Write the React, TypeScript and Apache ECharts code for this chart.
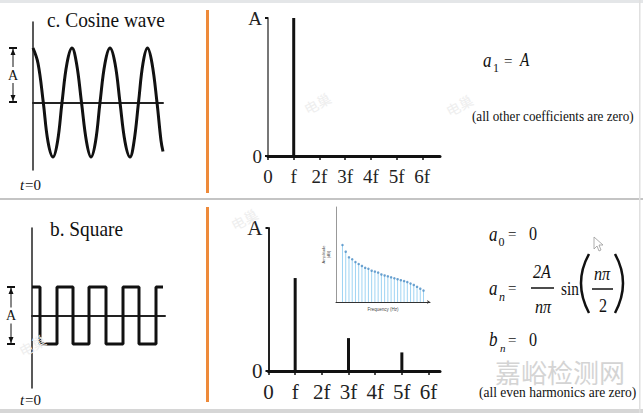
import React, { useEffect, useRef } from "react";
import * as echarts from "echarts";

const SERIF = "Liberation Serif";

// Cosine wave (time in px from t=0, amplitude in units of A)
const cosTime = [0, 5, 10.3, 15, 20, 24.5, 29, 34, 39, 43.5, 48.5, 53.5, 58, 62.5, 67, 72, 77, 82, 87, 92, 97, 101, 105.5, 110, 114.5, 119, 124, 128, 130];
const cosValue = [1, 0.72, 0, -0.72, -1, -0.72, 0, 0.72, 1, 0.72, 0, -0.72, -1, -0.72, 0, 0.72, 1, 0.72, 0, -0.72, -1, -0.72, 0, 0.72, 1, 0.72, 0, -0.7, -0.9];

// Square wave (transition times in px from t=0, level in units of A)
const squareTime = [0, 8, 25, 41, 57, 74, 91, 107, 124, 131];
const squareLevel = [1, -1, 1, -1, 1, -1, 1, -1, 1, 1];

// Spectra
const harmonicLabels = ["0", "f", "2f", "3f", "4f", "5f", "6f"];
const cosHarmonic = [1];
const cosAmplitude = [1];
const squareHarmonic = [1, 3, 5];
const squareAmplitude = [0.65, 0.23, 0.13];

// Inset spectrum (bin index, amplitude %)
const insetBin = [2, 3, 4, 5, 6, 7, 8, 9, 10, 11, 12, 13, 14, 15, 16, 17, 18, 19, 20, 21, 22, 23, 24, 25, 26, 27];
const insetAmplitude = [60, 53, 47, 45, 42, 40, 38, 36, 35, 33, 32, 31, 29, 28, 27, 26, 25, 24, 23, 22, 21, 19.5, 18, 16, 14, 12];

const txt = (x: number, y: number, text: string, size: number, extra: any = {}) => ({
  type: "text",
  x,
  y,
  scaleX: extra.scaleX ?? 1,
  rotation: extra.rotation ?? 0,
  z: 10,
  style: {
    text,
    fontSize: size,
    fontFamily: extra.family ?? SERIF,
    fontStyle: extra.italic ? "italic" : "normal",
    fill: extra.fill ?? "#111",
    textAlign: extra.align ?? "left",
    textVerticalAlign: "middle",
  },
});

const ln = (x1: number, y1: number, x2: number, y2: number, color = "#111", w = 1.5) => ({
  type: "line",
  z: 10,
  shape: { x1, y1, x2, y2 },
  style: { stroke: color, lineWidth: w },
});

const markerA = (x: number, yTop: number, yBot: number) => {
  const mid = (yTop + yBot) / 2;
  return [
    ln(x - 4, yTop, x + 4, yTop, "#111", 2),
    ln(x - 4, yBot, x + 4, yBot, "#111", 2),
    ln(x, yTop, x, mid - 8, "#111", 1),
    ln(x, mid + 8, x, yBot, "#111", 1),
    { type: "polygon", z: 10, shape: { points: [[x, yTop + 1], [x - 2.5, yTop + 7], [x + 2.5, yTop + 7]] }, style: { fill: "#111" } },
    { type: "polygon", z: 10, shape: { points: [[x, yBot - 1], [x - 2.5, yBot - 7], [x + 2.5, yBot - 7]] }, style: { fill: "#111" } },
    txt(x, mid, "A", 14, { align: "center" }),
  ];
};

const tEquals0 = (x: number, y: number) => [
  txt(x, y, "t", 15, { italic: true }),
  txt(x + 5, y, "=0", 15),
];

const specXAxis = (grid: number, max: number, size: number, margin: number) => ({
  type: "value",
  gridIndex: grid,
  min: 0,
  max,
  interval: 1,
  axisLine: { onZero: false, lineStyle: { color: "#111", width: 3 } },
  axisTick: { show: true, length: 4, lineStyle: { color: "#111", width: 1.5 } },
  axisLabel: {
    formatter: (v: number) => harmonicLabels[v] ?? "",
    fontFamily: SERIF,
    fontSize: size,
    color: "#222",
    margin,
    showMaxLabel: false,
  },
  splitLine: { show: false },
});

const specYAxis = (grid: number, color: string, size: number) => ({
  type: "value",
  gridIndex: grid,
  min: 0,
  max: 1,
  interval: 1,
  axisLine: { show: true, lineStyle: { color, width: 2 } },
  axisTick: { show: true, length: 3, lineStyle: { color: "#111", width: 2 } },
  axisLabel: {
    formatter: (v: number) => (v === 1 ? "A" : "0"),
    fontFamily: SERIF,
    fontSize: size,
    color: "#222",
    margin: 6,
  },
  splitLine: { show: false },
});

const waveXAxis = (grid: number, max: number) => ({
  type: "value",
  gridIndex: grid,
  min: 0,
  max,
  axisLine: { onZero: true, lineStyle: { color: "#222", width: 2 } },
  axisTick: { show: false },
  axisLabel: { show: false },
  splitLine: { show: false },
});

const waveYAxis = (grid: number, min: number, max: number) => ({
  type: "value",
  gridIndex: grid,
  min,
  max,
  axisLine: { show: true, lineStyle: { color: "#222", width: 1.5 } },
  axisTick: { show: false },
  axisLabel: { show: false },
  splitLine: { show: false },
});

export default function App() {
  const ref = useRef<HTMLDivElement>(null);

  useEffect(() => {
    if (!ref.current) return;
    const chart = echarts.init(ref.current, undefined, { renderer: "svg" });
    const CJK = "Noto Sans CJK SC";

    const graphic: any[] = [
      { type: "rect", z: 0, shape: { x: 0, y: 0, width: 643, height: 3 }, style: { fill: "#e4e6e8" } },
      { type: "rect", z: 0, shape: { x: 0, y: 198, width: 643, height: 2 }, style: { fill: "#c4c4c4" } },
      { type: "rect", z: 0, shape: { x: 0, y: 409, width: 643, height: 4 }, style: { fill: "#d6d6d6" } },
      { type: "rect", z: 0, shape: { x: 639, y: 0, width: 1.5, height: 413 }, style: { fill: "#e0e0e0" } },
      // orange dividers
      { type: "rect", z: 1, shape: { x: 206, y: 10, width: 3, height: 183 }, style: { fill: "#ee8a3a" } },
      { type: "rect", z: 1, shape: { x: 206, y: 207, width: 3, height: 195 }, style: { fill: "#ee8a3a" } },
      // titles
      txt(47, 20, "c. Cosine wave", 22, { scaleX: 0.88 }),
      txt(50, 229, "b. Square", 22, { scaleX: 0.88 }),
      ...tEquals0(20, 185),
      ...tEquals0(20, 400),
      ...markerA(13, 48, 102),
      ...markerA(11, 287, 344),
      // top formulas
      txt(483, 60, "a", 20, { italic: true, scaleX: 0.85 }),
      txt(493, 67.5, "1", 12),
      txt(504, 61, "=", 15),
      txt(520, 60, "A", 19, { italic: true, scaleX: 0.8 }),
      txt(472, 116, "(all other coefficients are zero)", 15, { scaleX: 0.876 }),
      // bottom formulas
      txt(489, 234, "a", 20, { italic: true, scaleX: 0.85 }),
      txt(498.5, 242, "0", 12),
      txt(508, 234, "=", 15),
      txt(529, 234, "0", 19, { scaleX: 0.85 }),
      txt(489, 288, "a", 20, { italic: true, scaleX: 0.85 }),
      txt(499, 297, "n", 12, { italic: true }),
      txt(508, 288, "=", 15),
      txt(542, 272, "2A", 19, { italic: true, align: "center", scaleX: 0.85 }),
      ln(531, 288, 554, 288, "#111", 1.5),
      txt(543, 307, "nπ", 19, { italic: true, align: "center", scaleX: 0.85 }),
      txt(561, 289, "sin", 18, { scaleX: 0.85 }),
      { type: "bezierCurve", z: 10, shape: { x1: 589, y1: 254, x2: 589, y2: 313, cpx1: 573, cpy1: 283 }, style: { stroke: "#111", lineWidth: 2.5, fill: "none" } },
      { type: "bezierCurve", z: 10, shape: { x1: 615, y1: 254, x2: 615, y2: 313, cpx1: 631, cpy1: 283 }, style: { stroke: "#111", lineWidth: 2.5, fill: "none" } },
      txt(602, 274, "nπ", 19, { italic: true, align: "center", scaleX: 0.85 }),
      ln(592, 289, 613, 289, "#111", 1.5),
      txt(603, 306, "2", 19, { align: "center", scaleX: 0.85 }),
      txt(489, 339, "b", 20, { italic: true, scaleX: 0.85 }),
      txt(500, 347.5, "n", 11, { italic: true }),
      txt(508, 340, "=", 15),
      txt(529, 340, "0", 19, { scaleX: 0.85 }),
      txt(495, 371, "嘉峪检测网", 26, { family: CJK, fill: "#d4d4d4" }),
      txt(479, 392, "(all even harmonics are zero)", 15, { scaleX: 0.9 }),
      // faint watermarks
      txt(305, 110, "电巢", 14, { family: CJK, fill: "#eeeeee", rotation: 0.5 }),
      txt(447, 112, "电巢", 14, { family: CJK, fill: "#eeeeee", rotation: 0.5 }),
      txt(232, 226, "电巢", 14, { family: CJK, fill: "#eeeeee", rotation: 0.5 }),
      txt(20, 352, "电巢", 14, { family: CJK, fill: "#eeeeee", rotation: 0.5 }),
      // mouse cursor
      {
        type: "polygon",
        z: 10,
        shape: { points: [[594, 237], [594, 249], [597, 246], [599, 251], [601, 250], [599, 245], [603, 245]] },
        style: { fill: "#fff", stroke: "#999", lineWidth: 0.8 },
      },
    ];

    chart.setOption({
      animation: false,
      backgroundColor: "#ffffff",
      grid: [
        { left: 33, top: 22, width: 130, height: 148 },
        { left: 268, top: 18, width: 172, height: 138 },
        { left: 32, top: 228, width: 133, height: 160 },
        { left: 268.5, top: 228, width: 171.5, height: 143 },
        { left: 336, top: 207, width: 94, height: 95 },
      ],
      xAxis: [
        waveXAxis(0, 130),
        specXAxis(1, 6.69, 19, 11),
        waveXAxis(2, 133),
        specXAxis(3, 6.43, 21, 10),
        {
          type: "value",
          gridIndex: 4,
          min: 0,
          max: 29,
          name: "Frequency (Hz)",
          nameLocation: "middle",
          nameGap: 5,
          nameTextStyle: { fontSize: 4.5, color: "#444", fontFamily: "Liberation Sans" },
          axisLine: { onZero: false, lineStyle: { color: "#333", width: 1 }, symbol: ["none", "arrow"], symbolSize: [3, 3] },
          axisTick: { show: false },
          axisLabel: { show: false },
          splitLine: { show: false },
        },
      ],
      yAxis: [
        waveYAxis(0, -1.239, 1.477),
        specYAxis(1, "#777", 19),
        waveYAxis(2, -2.54, 3.07),
        specYAxis(3, "#222", 21),
        {
          type: "value",
          gridIndex: 4,
          min: 0,
          max: 100,
          name: "Amplitude\n(dB)",
          nameLocation: "middle",
          nameRotate: 90,
          nameGap: 5,
          nameTextStyle: { fontSize: 4, color: "#444", fontFamily: "Liberation Sans", lineHeight: 5 },
          axisLine: { show: true, lineStyle: { color: "#999", width: 1 } },
          axisTick: { show: false },
          axisLabel: { show: false },
          splitLine: { show: false },
        },
      ],
      series: [
        {
          type: "line",
          xAxisIndex: 0,
          yAxisIndex: 0,
          data: cosTime.map((t, i) => [t, cosValue[i]]),
          smooth: 0.4,
          showSymbol: false,
          lineStyle: { color: "#111", width: 3 },
          z: 5,
        },
        {
          type: "bar",
          xAxisIndex: 1,
          yAxisIndex: 1,
          data: cosHarmonic.map((h, i) => [h, cosAmplitude[i]]),
          barWidth: 3,
          itemStyle: { color: "#111" },
        },
        {
          type: "line",
          xAxisIndex: 2,
          yAxisIndex: 2,
          data: squareTime.map((t, i) => [t, squareLevel[i]]),
          step: "end",
          showSymbol: false,
          lineStyle: { color: "#111", width: 3 },
          z: 5,
        },
        {
          type: "bar",
          xAxisIndex: 3,
          yAxisIndex: 3,
          data: squareHarmonic.map((h, i) => [h, squareAmplitude[i]]),
          barWidth: 3,
          itemStyle: { color: "#111" },
        },
        {
          type: "bar",
          xAxisIndex: 4,
          yAxisIndex: 4,
          data: insetBin.map((b, i) => [b, insetAmplitude[i]]),
          barWidth: 1,
          itemStyle: { color: "#9fd4f3" },
        },
        {
          type: "scatter",
          xAxisIndex: 4,
          yAxisIndex: 4,
          data: insetBin.map((b, i) => [b, insetAmplitude[i]]),
          symbolSize: 2.5,
          itemStyle: { color: "#4a8cc4" },
          z: 6,
        },
      ],
      graphic,
    });

    return () => chart.dispose();
  }, []);

  return (
    <div
      ref={ref}
      style={{ position: "fixed", left: 0, top: 0, width: 643, height: 413, background: "#fff" }}
    />
  );
}
